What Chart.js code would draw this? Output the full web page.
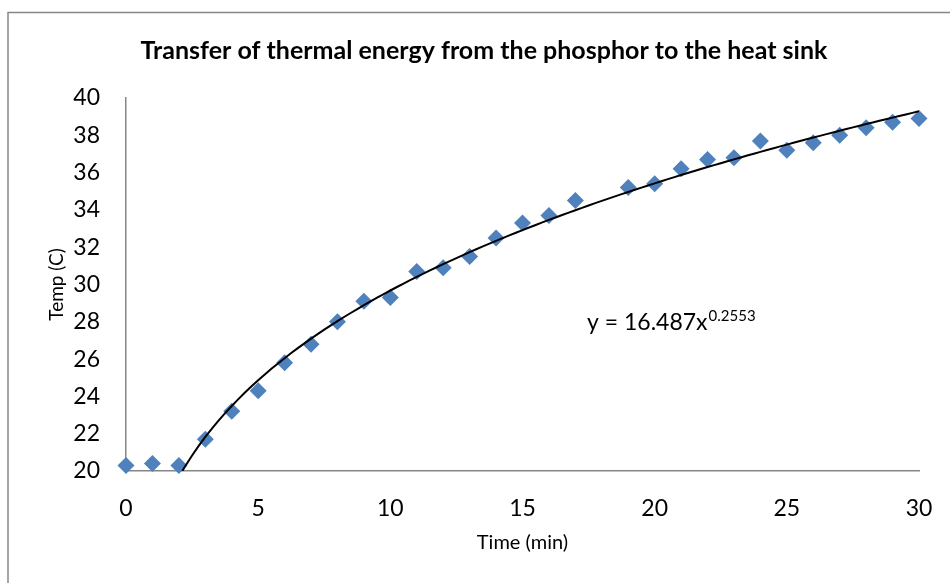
<!DOCTYPE html>
<html>
<head>
<meta charset="utf-8">
<script src="https://cdn.jsdelivr.net/npm/chart.js@4.4.0/dist/chart.umd.min.js"></script>
<style>
  body { margin: 0; background: #fff; }
  #wrap { width: 950px; height: 583px; }
</style>
</head>
<body>
<div id="wrap"><canvas id="tempChart" width="950" height="583"></canvas></div>
<script>
// measured temperatures (no reading at 18 min)
var times = [0, 1, 2, 3, 4, 5, 6, 7, 8, 9, 10, 11, 12, 13, 14, 15, 16, 17, 19, 20, 21, 22, 23, 24, 25, 26, 27, 28, 29, 30];
var temps = [20.3, 20.4, 20.3, 21.7, 23.2, 24.3, 25.8, 26.8, 28.0, 29.1, 29.3, 30.7, 30.9, 31.5, 32.5, 33.3, 33.7, 34.5, 35.2, 35.4, 36.2, 36.7, 36.8, 37.7, 37.2, 37.6, 38.0, 38.4, 38.7, 38.9];

// power trendline shown on the chart: y = 16.487x^0.2553
var fitA = 16.487;
var fitB = 0.2553;

var xTicks = [0, 5, 10, 15, 20, 25, 30];
var yTicks = [20, 22, 24, 26, 28, 30, 32, 34, 36, 38, 40];

var font = "Lato, 'Open Sans', sans-serif";

var points = times.map(function (t, i) { return { x: t, y: temps[i] }; });

// trendline starts where it crosses the bottom of the y axis
var trend = [];
var xStart = Math.pow(yTicks[0] / fitA, 1 / fitB);
trend.push({ x: xStart, y: yTicks[0] });
for (var x = Math.ceil(xStart * 4) / 4; x <= xTicks[xTicks.length - 1]; x += 0.25) {
    trend.push({ x: x, y: fitA * Math.pow(x, fitB) });
}

var frame = {
    id: 'frame',
    beforeDraw: function (chart) {
        var ctx = chart.ctx;
        ctx.save();
        ctx.fillStyle = '#fff';
        ctx.fillRect(0, 0, chart.width, chart.height);
        ctx.strokeStyle = '#868686';
        ctx.lineWidth = 1.5;
        ctx.strokeRect(8, 12.5, 1000, 1000);
        ctx.restore();
    },
    afterDraw: function (chart) {
        // trendline equation label
        var ctx = chart.ctx;
        ctx.save();
        ctx.fillStyle = '#000';
        ctx.textBaseline = 'alphabetic';
        ctx.font = "23px " + font;
        var main = 'y = ' + fitA + 'x';
        ctx.fillText(main, 587, 330);
        var w = ctx.measureText(main).width;
        ctx.font = "15px " + font;
        ctx.fillText(String(fitB), 587 + w + 1, 321);
        ctx.restore();
    }
};

new Chart(document.getElementById('tempChart'), {
    type: 'scatter',
    data: {
        datasets: [{
            label: 'Temp',
            data: points,
            backgroundColor: '#4F81BD',
            borderColor: '#4F81BD',
            pointStyle: 'rectRot',
            pointRadius: 8.5,
            pointHoverRadius: 8.5,
            borderWidth: 0,
            clip: false,
            order: 2
        }, {
            label: 'Power trend',
            data: trend,
            showLine: true,
            borderColor: '#000',
            borderWidth: 2,
            pointRadius: 0,
            tension: 0,
            order: 1
        }]
    },
    plugins: [frame],
    options: {
        responsive: false,
        animation: false,
        layout: { padding: { left: 49, right: 31, top: 0, bottom: 0 } },
        plugins: {
            legend: { display: false },
            tooltip: { enabled: false },
            title: {
                display: true,
                text: 'Transfer of thermal energy from the phosphor to the heat sink',
                color: '#000',
                font: { family: font, size: 25, weight: 'bold' },
                padding: { top: 36, bottom: 32 }
            }
        },
        scales: {
            x: {
                type: 'linear',
                min: 0,
                max: 30,
                afterFit: function (s) { s.height = 112; },
                afterBuildTicks: function (s) { s.ticks = xTicks.map(function (v) { return { value: v }; }); },
                grid: { display: false },
                border: { display: true, color: '#868686', width: 1.5 },
                ticks: { color: '#000', font: { family: font, size: 23 }, padding: 16, maxRotation: 0 },
                title: {
                    display: true,
                    text: 'Time (min)',
                    color: '#000',
                    font: { family: font, size: 20 },
                    padding: { top: 0, bottom: 28 }
                }
            },
            y: {
                min: 20,
                max: 40,
                afterFit: function (s) { s.width = 77; },
                afterBuildTicks: function (s) { s.ticks = yTicks.map(function (v) { return { value: v }; }); },
                grid: { display: false },
                border: { display: true, color: '#868686', width: 1.5 },
                ticks: { color: '#000', font: { family: font, size: 23 }, padding: 18 },
                title: {
                    display: true,
                    text: 'Temp (C)',
                    color: '#000',
                    font: { family: font, size: 19 },
                    padding: { top: -4, bottom: 0 }
                }
            }
        }
    }
});
</script>
</body>
</html>
